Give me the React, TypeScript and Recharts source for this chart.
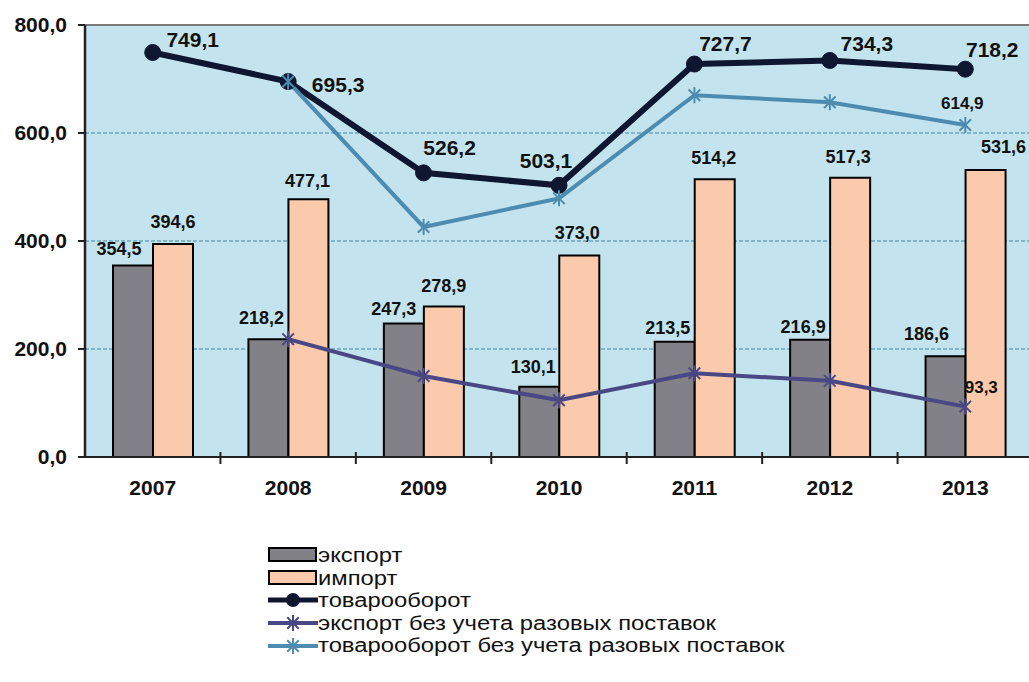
import { ComposedChart, Bar, Line, XAxis, YAxis, CartesianGrid, ReferenceLine, LabelList } from "recharts"

// values
const years = ["2007", "2008", "2009", "2010", "2011", "2012", "2013"]
const exportVals = [354.5, 218.2, 247.3, 130.1, 213.5, 216.9, 186.6]
const importVals = [394.6, 477.1, 278.9, 373.0, 514.2, 517.3, 531.6]
const turnover = [749.1, 695.3, 526.2, 503.1, 727.7, 734.3, 718.2]
const exportAdj = [null, 218.2, 150.0, 105.0, 155.0, 141.0, 93.3]
const turnoverAdj = [null, 695.3, 426.0, 479.0, 670.0, 657.0, 614.9]
const yTicks = [0, 200, 400, 600, 800]

// label nudges (dx, dy of the label centre from the mark)
const exportLabelShift = [[-14, -17], [-7, -22], [-10, -15], [-6, -20], [-7, -14], [-7, -13], [-19, -23]]
const importLabelShift = [[0, -22], [-1, -19], [0, -21], [-2, -23], [-1, -22], [-2, -21], [18, -23]]
const turnoverLabelShift = [[40, -13], [50, 3], [26, -25], [-13, -25], [31, -21], [37, -17], [27, -20]]

const data = years.map((year, i) => ({
  year,
  export: exportVals[i],
  import: importVals[i],
  turnover: turnover[i],
  exportAdj: exportAdj[i],
  turnoverAdj: turnoverAdj[i],
}))

const C = {
  bg: "#c3e4ee",
  grid: "#3f85a5",
  exportBar: "#818187",
  importBar: "#fbc9ab",
  turnover: "#0e1630",
  exportAdj: "#4a4785",
  turnoverAdj: "#4d8cb0",
  text: "#111111",
}

const FONT = "'Liberation Sans', Arial, sans-serif"

const fmt = (v: number) => v.toFixed(1).replace(".", ",")

const Star = ({ cx, cy, color, r = 8 }: any) => {
  const d = r * 0.72
  return (
    <g stroke={color} strokeWidth={2}>
      <line x1={cx} y1={cy - r} x2={cx} y2={cy + r} />
      <line x1={cx - d} y1={cy - d} x2={cx + d} y2={cy + d} />
      <line x1={cx - d} y1={cy + d} x2={cx + d} y2={cy - d} />
    </g>
  )
}

const starDot = (color: string) => (props: any) => {
  const { cx, cy, index } = props
  if (cy == null || isNaN(cy)) return <g key={index} />
  return <Star key={index} cx={cx} cy={cy} color={color} />
}

const barLabel = (shift: number[][]) => (props: any) => {
  const { x, y, width, value, index } = props
  const [dx, dy] = shift[index]
  return (
    <text x={x + width / 2 + dx} y={y + dy} dy="0.36em" textAnchor="middle" fontFamily={FONT} fontWeight="bold" fontSize={18} fill={C.text}>
      {fmt(value)}
    </text>
  )
}

const turnoverLabel = (props: any) => {
  const { x, y, value, index } = props
  const [dx, dy] = turnoverLabelShift[index]
  return (
    <text x={x + dx} y={y + dy} dy="0.36em" textAnchor="middle" fontFamily={FONT} fontWeight="bold" fontSize={21} fill={C.text}>
      {fmt(value)}
    </text>
  )
}

// only the last point of the adjusted lines carries a label
const lastPointLabel = (dx: number, dy: number) => (props: any) => {
  const { x, y, value, index } = props
  if (index !== years.length - 1 || value == null) return null
  return (
    <text x={x + dx} y={y + dy} dy="0.36em" textAnchor="middle" fontFamily={FONT} fontWeight="bold" fontSize={17} fill={C.text}>
      {fmt(value)}
    </text>
  )
}

const XTick = (props: any) => {
  const { x, y, payload, index } = props
  const half = payload.offset || 67.7
  return (
    <g>
      <text x={x} y={y + 38} textAnchor="middle" fontFamily={FONT} fontWeight="bold" fontSize={21} fill={C.text}>
        {payload.value}
      </text>
      {index < years.length - 1 && <line x1={x + half} x2={x + half} y1={y - 5} y2={y + 7} stroke="#222" strokeWidth={2} />}
    </g>
  )
}

const legendItems = [
  { label: "экспорт", kind: "bar", color: C.exportBar },
  { label: "импорт", kind: "bar", color: C.importBar },
  { label: "товарооборот", kind: "circle", color: C.turnover },
  { label: "экспорт без учета разовых поставок", kind: "star", color: C.exportAdj },
  { label: "товарооборот без учета разовых поставок", kind: "star", color: C.turnoverAdj },
]

function LegendBox() {
  return (
    <div style={{ position: "absolute", left: 268, top: 544, fontFamily: FONT, fontSize: 19.5, color: C.text }}>
      {legendItems.map((it) => (
        <div key={it.label} style={{ display: "flex", alignItems: "center", height: 22.6, lineHeight: "22.6px" }}>
          <svg width={50} height={22} style={{ display: "block", flex: "none" }}>
            {it.kind === "bar" && <rect x={1} y={4} width={47} height={13} fill={it.color} stroke="#000" strokeWidth={2} />}
            {it.kind === "circle" && (
              <g>
                <line x1={0} x2={50} y1={11} y2={11} stroke={it.color} strokeWidth={5} />
                <circle cx={25} cy={11} r={7} fill={it.color} />
              </g>
            )}
            {it.kind === "star" && (
              <g>
                <line x1={0} x2={50} y1={11} y2={11} stroke={it.color} strokeWidth={4} />
                <Star cx={25} cy={11} color={it.color} r={8} />
              </g>
            )}
          </svg>
          <span style={{ whiteSpace: "nowrap", display: "inline-block", transform: "scaleX(1.22)", transformOrigin: "left center" }}>
            {it.label}
          </span>
        </div>
      ))}
    </div>
  )
}

export default function App() {
  return (
    <div style={{ position: "fixed", left: 0, top: 0, width: 1029, height: 682, overflow: "hidden", background: "#fff" }}>
      <ComposedChart
        width={1040}
        height={682}
        data={data}
        margin={{ top: 25, right: 7, bottom: 185, left: 0 }}
        barCategoryGap={28}
        barGap={0}
      >
        <CartesianGrid vertical={false} fill={C.bg} stroke={C.grid} strokeDasharray="4 2" strokeWidth={1} />
        <ReferenceLine y={800} stroke="#7a7a7a" strokeWidth={2} />
        <XAxis
          dataKey="year"
          tickSize={0}
          tickMargin={0}
          height={40}
          tick={<XTick />}
          axisLine={{ stroke: "#222", strokeWidth: 2 }}
          interval={0}
        />
        <YAxis
          width={85}
          domain={[0, 800]}
          ticks={yTicks}
          tickFormatter={fmt}
          tickSize={7}
          tickMargin={11}
          tick={{ fill: C.text, fontSize: 21, fontWeight: "bold", fontFamily: FONT }}
          tickLine={{ stroke: "#222", strokeWidth: 2 }}
          axisLine={{ stroke: "#222", strokeWidth: 2.5 }}
          allowDataOverflow
        />
        <Bar dataKey="export" fill={C.exportBar} stroke="#000" strokeWidth={2} isAnimationActive={false}>
          <LabelList dataKey="export" content={barLabel(exportLabelShift)} />
        </Bar>
        <Bar dataKey="import" fill={C.importBar} stroke="#000" strokeWidth={2} isAnimationActive={false}>
          <LabelList dataKey="import" content={barLabel(importLabelShift)} />
        </Bar>
        <Line
          dataKey="turnover"
          type="linear"
          stroke={C.turnover}
          strokeWidth={6}
          dot={{ r: 8, fill: C.turnover, stroke: C.turnover, strokeWidth: 1 }}
          activeDot={false}
          isAnimationActive={false}
        >
          <LabelList dataKey="turnover" content={turnoverLabel} />
        </Line>
        <Line
          dataKey="exportAdj"
          type="linear"
          stroke={C.exportAdj}
          strokeWidth={4}
          dot={starDot(C.exportAdj)}
          activeDot={false}
          isAnimationActive={false}
        >
          <LabelList dataKey="exportAdj" content={lastPointLabel(16, -20)} />
        </Line>
        <Line
          dataKey="turnoverAdj"
          type="linear"
          stroke={C.turnoverAdj}
          strokeWidth={4}
          dot={starDot(C.turnoverAdj)}
          activeDot={false}
          isAnimationActive={false}
        >
          <LabelList dataKey="turnoverAdj" content={lastPointLabel(-3, -22)} />
        </Line>
      </ComposedChart>
      <LegendBox />
    </div>
  )
}
